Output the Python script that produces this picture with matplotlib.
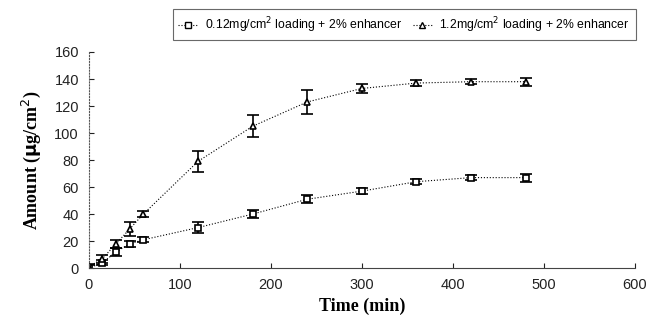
import matplotlib
matplotlib.use('Agg')
import matplotlib.pyplot as plt
from matplotlib.lines import Line2D

time_min = [0, 15, 30, 45, 60, 120, 180, 240, 300, 360, 420, 480]
low_load = [0, 4, 12, 18, 21, 30, 40, 51, 57, 64, 67, 67]
low_err = [2, 2, 3, 2, 2, 4, 3, 3, 2, 2, 2, 3]
high_load = [1, 7, 18, 29, 40, 79, 105, 123, 133, 137, 138, 138]
high_err = [2, 3, 3, 5, 2, 8, 8, 9, 3, 2, 2, 3]

labels = ['0.12mg/cm$^2$ loading + 2% enhancer',
          '1.2mg/cm$^2$ loading + 2% enhancer']

fig = plt.figure(figsize=(6.67, 3.29), dpi=100)
ax = fig.add_axes([0.133, 0.185, 0.819, 0.657])

style = dict(color='black', markersize=5, markerfacecolor='white',
             markeredgewidth=1.2, linestyle=':', linewidth=0.8,
             elinewidth=1.2, capsize=4)
ax.errorbar(time_min, low_load, yerr=low_err, marker='s', **style)
ax.errorbar(time_min, high_load, yerr=high_err, marker='^', **style)

ax.set_xlim(0, 600)
ax.set_ylim(0, 160)
ax.set_xticks(range(0, 601, 100))
ax.set_yticks(range(0, 161, 20))

for s in ['top', 'right']:
    ax.spines[s].set_visible(False)
ax.spines['left'].set_linestyle(':')
ax.spines['left'].set_color('#555555')
ax.spines['bottom'].set_color('#444444')

ax.tick_params(axis='both', direction='in', labelsize=10.5, colors='#222222', pad=7)
for lbl in ax.get_xticklabels() + ax.get_yticklabels():
    lbl.set_family('Liberation Sans')

ax.set_xlabel('Time (min)', fontfamily='Liberation Serif', fontweight='bold', fontsize=13)
ax.set_ylabel('Amount ($\\mathbf{\\mu}$g/cm$^2$)', fontfamily='Liberation Serif',
              fontweight='bold', fontsize=13, labelpad=8)

handles = [Line2D([], [], color='black', marker='s', markersize=4.5,
                  markerfacecolor='white', linestyle=':', linewidth=0.8),
           Line2D([], [], color='black', marker='^', markersize=4.5,
                  markerfacecolor='white', linestyle=':', linewidth=0.8)]
leg = fig.legend(handles, labels, loc='upper right', bbox_to_anchor=(0.962, 0.99),
                 ncol=2, prop={'family': 'Liberation Sans', 'size': 8.8},
                 frameon=True, fancybox=False, edgecolor='#444444',
                 handlelength=1.6, handletextpad=0.6, columnspacing=0.8,
                 borderpad=0.45)
leg.get_frame().set_linewidth(0.8)

plt.savefig('out.png', dpi=100)
